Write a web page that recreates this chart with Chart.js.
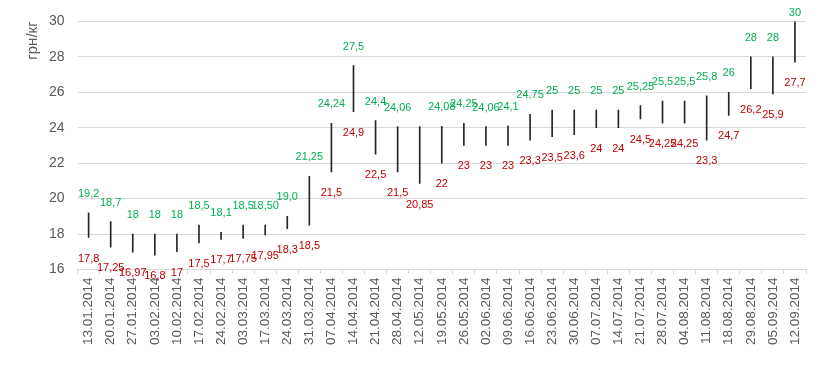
<!DOCTYPE html>
<html><head><meta charset="utf-8">
<script src="https://cdn.jsdelivr.net/npm/chart.js@4.4.1/dist/chart.umd.min.js"></script>
<style>html,body{margin:0;padding:0;background:#fff}#w{width:822px;height:370px}</style>
</head><body><div id="w"><canvas id="c"></canvas></div>
<script>
const categories = ["13.01.2014","20.01.2014","27.01.2014","03.02.2014","10.02.2014","17.02.2014","24.02.2014","03.03.2014","17.03.2014","24.03.2014","31.03.2014","07.04.2014","14.04.2014","21.04.2014","28.04.2014","12.05.2014","19.05.2014","26.05.2014","02.06.2014","09.06.2014","16.06.2014","23.06.2014","30.06.2014","07.07.2014","14.07.2014","21.07.2014","28.07.2014","04.08.2014","11.08.2014","18.08.2014","29.08.2014","05.09.2014","12.09.2014"];
const highValues = [19.2,18.7,18,18,18,18.5,18.1,18.5,18.5,19.0,21.25,24.24,27.5,24.4,24.06,24.06,24.08,24.25,24.06,24.1,24.75,25,25,25,25,25.25,25.5,25.5,25.8,26,28,28,30];
const lowValues = [17.8,17.25,16.97,16.8,17,17.5,17.7,17.75,17.95,18.3,18.5,21.5,24.9,22.5,21.5,20.85,22,23,23,23,23.3,23.5,23.6,24,24,24.5,24.25,24.25,23.3,24.7,26.2,25.9,27.7];
const highLabels = ["19,2","18,7","18","18","18","18,5","18,1","18,5","18,50","19,0","21,25","24,24","27,5","24,4","24,06","","24,08","24,25","24,06","24,1","24,75","25","25","25","25","25,25","25,5","25,5","25,8","26","28","28","30"];
const lowLabels = ["17,8","17,25","16,97","16,8","17","17,5","17,7","17,75","17,95","18,3","18,5","21,5","24,9","22,5","21,5","20,85","22","23","23","23","23,3","23,5","23,6","24","24","24,5","24,25","24,25","23,3","24,7","26,2","25,9","27,7"];
const yTicks = [16,18,20,22,24,26,28,30];

const FONT = "'Liberation Sans', Arial, sans-serif";
const labelPlugin = {
  id: 'hlLabels',
  afterDatasetsDraw(chart) {
    const ctx = chart.ctx, xs = chart.scales.x, ys = chart.scales.y;
    ctx.save();
    ctx.font = "11px " + FONT;
    ctx.textAlign = 'center';
    ctx.textBaseline = 'middle';
    categories.forEach((c, i) => {
      const x = xs.getPixelForValue(i);
      const yh = ys.getPixelForValue(highValues[i]);
      const yl = ys.getPixelForValue(lowValues[i]);
      ctx.fillStyle = '#00B050';
      ctx.fillText(highLabels[i], x, Math.max(yh - 19, chart.chartArea.top - 8));
      ctx.fillStyle = '#C00000';
      ctx.fillText(lowLabels[i], x, yl + 21);
    });
    ctx.restore();
  }
};

new Chart(document.getElementById('c'), {
  type: 'bar',
  data: {
    labels: categories,
    datasets: [{
      data: categories.map((c, i) => [lowValues[i], highValues[i]]),
      backgroundColor: '#262626',
      barThickness: 1,
      borderWidth: 0
    }]
  },
  options: {
    responsive: true, maintainAspectRatio: false, animation: false,
    layout: { padding: { top: 13, right: 16, bottom: 22, left: 24 } },
    plugins: { legend: { display: false }, tooltip: { enabled: false } },
    scales: {
      x: {
        offset: true,
        grid: { offset: true, drawOnChartArea: false, drawTicks: true, tickLength: 5, color: '#D9D9D9' },
        border: { color: '#D9D9D9' },
        ticks: { color: '#595959', font: { family: FONT, size: 13.5 }, minRotation: 90, maxRotation: 90, autoSkip: false, padding: 3 }
      },
      y: {
        min: 16, max: 30,
        afterBuildTicks: (s) => { s.ticks = yTicks.map(v => ({ value: v })); },
        grid: { color: '#D9D9D9', drawTicks: false },
        border: { display: false },
        ticks: { color: '#595959', font: { family: FONT, size: 14 }, padding: 13 },
        title: { display: true, text: 'грн/кг', align: 'end', color: '#595959', font: { family: FONT, size: 15 }, padding: { top: 0, bottom: -6 } }
      }
    }
  },
  plugins: [labelPlugin]
});
</script></body></html>
